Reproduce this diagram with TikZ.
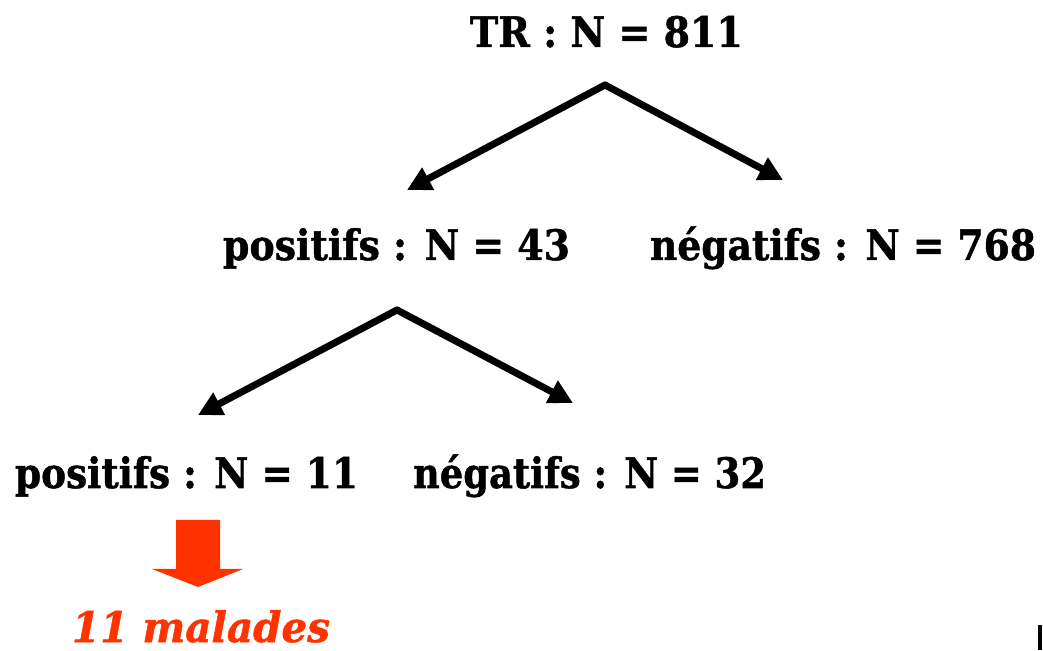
\documentclass[tikz,border=0pt]{standalone}
\usepackage{fontspec}
\setmainfont{DejaVu Serif}[BoldFeatures={FakeBold=1.2}, BoldItalicFeatures={FakeBold=1.2}]
\usepackage{graphicx}
\usetikzlibrary{arrows.meta}
\definecolor{redarrow}{HTML}{FF3300}
\newcommand{\fitto}[2]{\resizebox{#1}{\height}{#2}}
\tikzset{
  lbl/.style={anchor=base west, inner sep=0pt, outer sep=0pt, font=\fontsize{42}{48}\selectfont\bfseries},
  redlbl/.style={lbl, text=redarrow, text depth=0pt, font=\fontsize{42}{48}\selectfont\bfseries\itshape},
  branch/.style={line width=7pt, -{Triangle[length=24pt,width=24pt]}, line cap=round, line join=round}
}
\begin{document}
\begin{tikzpicture}[x=1pt,y=1pt]
\useasboundingbox (0,0) rectangle (1043,650);
% labels
\node[lbl] (tr) at (470,603) {\fitto{273pt}{TR : N = 811}};
\node[lbl] (p43) at (223,390) {\fitto{347pt}{positifs : N = 43}};
\node[lbl] (n768) at (650,390) {\fitto{386pt}{négatifs : N = 768}};
\node[lbl] (p11) at (15,162) {\fitto{343pt}{positifs : N = 11}};
\node[lbl] (n32) at (413,162) {\fitto{353pt}{négatifs : N = 32}};
\node[redlbl] (mal) at (72,8) {\fitto{258pt}{11 malades}};
% branch points
\coordinate (a1) at (605,565);
\coordinate (t1L) at (407,460);
\coordinate (t1R) at (783,470);
\coordinate (a2) at (397,340);
\coordinate (t2L) at (198,235);
\coordinate (t2R) at (573,247);
\draw[branch] (a1) -- (t1L);
\draw[branch] (a1) -- (t1R);
\draw[branch] (a2) -- (t2L);
\draw[branch] (a2) -- (t2R);
% red block arrow
\fill[redarrow] (176,130) -- (220,130) -- (220,81) -- (243,81) -- (198,63) -- (152,81) -- (176,81) -- cycle;
% small bar at bottom right
\fill[black] (1038,0) rectangle (1042,25);
\end{tikzpicture}
\end{document}
